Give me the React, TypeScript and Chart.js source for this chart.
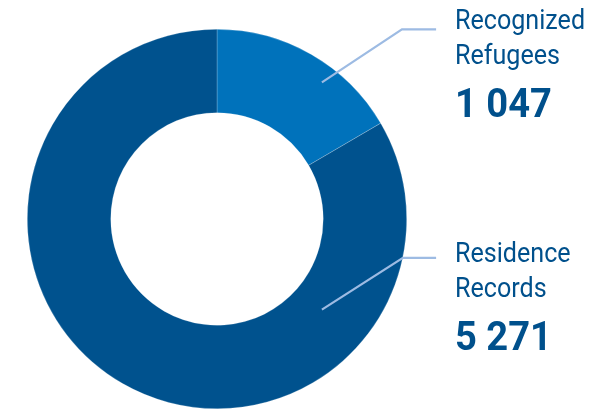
import React, { useEffect, useRef } from "react";
import { Chart, registerables } from "chart.js";

Chart.register(...registerables);

const categories = ["Recognized Refugees", "Residence Records"];
const labelLines = [["Recognized", "Refugees"], ["Residence", "Records"]];
const values = [1047, 5271];
const valueLabels = ["1 047", "5 271"];
const colors = ["#0072bb", "#00528e"];

const labelPlugin = {
  id: "sideLabels",
  afterDraw(chart: any) {
    const ctx = chart.ctx as CanvasRenderingContext2D;
    const meta = chart.getDatasetMeta(0);
    const arc0 = meta.data[0];
    const cx = arc0.x;
    const cy = arc0.y;
    const R = arc0.outerRadius;
    const anchors = [
      { sx: 0.553, sy: -0.72, ex: 0.975, ey: -1.0, hx: 1.155, tx: 238, ty: 29 },
      { sx: 0.553, sy: 0.478, ex: 0.98, ey: 0.205, hx: 1.155, tx: 238, ty: 262 },
    ];
    ctx.save();
    anchors.forEach((a, i) => {
      ctx.strokeStyle = "#9dbbe3";
      ctx.lineWidth = 2.2;
      ctx.beginPath();
      ctx.moveTo(cx + a.sx * R, cy + a.sy * R);
      ctx.lineTo(cx + a.ex * R, cy + a.ey * R);
      ctx.lineTo(cx + a.hx * R, cy + a.ey * R);
      ctx.stroke();
      ctx.fillStyle = "#00508c";
      ctx.textAlign = "left";
      ctx.textBaseline = "alphabetic";
      const x = cx + a.tx;
      ctx.font = "400 27px Roboto";
      labelLines[i].forEach((t, j) => {
        ctx.save();
        ctx.translate(x, a.ty + j * 34.5);
        ctx.scale(0.93, 1);
        ctx.fillText(t, 0, 0);
        ctx.restore();
      });
      ctx.font = "700 41px Roboto";
      ctx.save();
      ctx.translate(x, a.ty + 87.5);
      ctx.scale(0.93, 1);
      ctx.fillText(valueLabels[i], 0, 0);
      ctx.restore();
    });
    ctx.restore();
  },
};

export default function App() {
  const ref = useRef<HTMLCanvasElement | null>(null);
  useEffect(() => {
    document.body.style.margin = "0";
    const chart = new Chart(ref.current as HTMLCanvasElement, {
      type: "doughnut",
      data: {
        labels: categories,
        datasets: [
          {
            data: values,
            backgroundColor: colors,
            borderColor: "rgba(255,255,255,0.35)",
            borderWidth: 0.6,
          },
        ],
      },
      options: {
        responsive: false,
        animation: false,
        cutout: "56%",
        layout: { padding: { left: 27, top: 29, right: 200, bottom: 2 } },
        plugins: { legend: { display: false }, tooltip: { enabled: false } },
      },
      plugins: [labelPlugin],
    });
    return () => chart.destroy();
  }, []);
  return (
    <div style={{ width: 607, height: 411 }}>
      <canvas ref={ref} width={607} height={411} />
    </div>
  );
}
